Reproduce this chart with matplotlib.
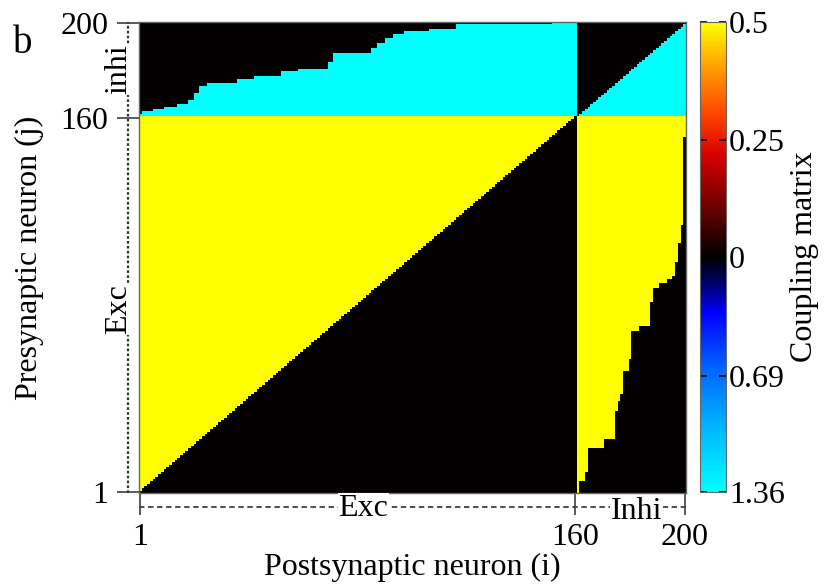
import numpy as np
import matplotlib
matplotlib.use("Agg")
import matplotlib.pyplot as plt
from matplotlib.colors import LinearSegmentedColormap, TwoSlopeNorm

plt.rcParams["font.family"] = ["Liberation Serif", "DejaVu Serif"]

N = 200
N_EXC = 160
W_EXC = 0.5
W_INH = -1.36

# inhibitory rows (161-200) onto excitatory columns: cyan reaches up to inh_top from column inh_cols on
inh_cols = [1, 2, 6, 10, 15, 19, 21, 23, 26, 37, 43, 53, 59, 70, 72, 86, 88, 91, 94, 98, 107, 117, 152]
inh_top = [161, 162, 163, 164, 165, 167, 170, 173, 174, 176, 177, 179, 180, 183, 187, 189, 191, 193, 195, 196, 197, 199, 200]

# excitatory rows (1-160) onto inhibitory columns: yellow reaches right to exc_right from row exc_rows on
exc_rows = [1, 6, 10, 20, 24, 36, 40, 43, 53, 58, 70, 72, 82, 88, 90, 92, 93, 99, 107, 115, 152]
exc_right = [161, 163, 164, 170, 174, 175, 176, 177, 179, 180, 183, 187, 188, 190, 193, 195, 196, 197, 198, 199, 200]

cbar_ticks = [-1.36, -0.69, 0, 0.25, 0.5]
cbar_labels = ["1.36", "0.69", "0", "0.25", "0.5"]

# build coupling matrix, rows = presynaptic j, cols = postsynaptic i
j = np.arange(1, N + 1)[:, None]
i = np.arange(1, N + 1)[None, :]
M = np.zeros((N, N))

exc_j = j <= N_EXC
exc_i = i <= N_EXC
M[exc_j & exc_i & (i < j)] = W_EXC

right = np.array(exc_right)[np.searchsorted(exc_rows, j, side="right") - 1]
M[exc_j & ~exc_i & (i <= right)] = W_EXC

top = np.array(inh_top)[np.searchsorted(inh_cols, np.minimum(i, N_EXC), side="right") - 1]
M[~exc_j & exc_i & (j <= top)] = W_INH
M[~exc_j & ~exc_i & (j < i)] = W_INH

cmap = LinearSegmentedColormap.from_list("coupling", [
    (0.0, (0.0, 1.0, 1.0)),
    (0.14, (0.0, 0.7, 1.0)),
    (0.26, (0.0, 0.4, 1.0)),
    (0.38, (0.0, 0.0, 1.0)),
    (0.44, (0.0, 0.0, 0.45)),
    (0.5, (0.0, 0.0, 0.0)),
    (0.6, (0.4, 0.0, 0.0)),
    (0.72, (0.85, 0.0, 0.0)),
    (0.8, (1.0, 0.25, 0.0)),
    (0.9, (1.0, 0.6, 0.0)),
    (1.0, (1.0, 1.0, 0.0)),
])
norm = TwoSlopeNorm(vmin=W_INH, vcenter=0, vmax=W_EXC)

fig = plt.figure(figsize=(8.36, 5.84), dpi=100)
ax = fig.add_axes([0.1663, 0.156, 0.6543, 0.806])
cax = fig.add_axes([0.8373, 0.158, 0.0311, 0.804])

im = ax.imshow(M, origin="lower", extent=(0.5, N + 0.5, 0.5, N + 0.5), aspect="auto",
               interpolation="nearest", cmap=cmap, norm=norm)

ax.set_xticks([1, 160, 200])
ax.set_yticks([1, 160, 200])
ax.tick_params(labelsize=23, length=16, width=1.3, color="0.3", pad=6)
for s in ax.spines.values():
    s.set_color("0.4")
    s.set_linewidth(1.0)
ax.set_xlabel("Postsynaptic neuron (i)", fontsize=23, labelpad=0)
ax.set_ylabel("Presynaptic neuron (j)", fontsize=23, labelpad=12)

# population brackets along the axes
ax.plot([-0.02, -0.02], [0.0, 1.0], transform=ax.transAxes, clip_on=False,
        color="0.2", lw=1.6, ls=(0, (1.2, 1.0)))
ax.plot([0.0, 1.0], [-0.03, -0.03], transform=ax.transAxes, clip_on=False,
        color="0.25", lw=1.3, ls=(0, (3, 2)))
box = dict(facecolor="white", edgecolor="none", pad=0.5)
ax.text(-0.037, 0.9, "inhi", rotation=90, transform=ax.transAxes, fontsize=23,
        ha="center", va="center", bbox=box)
ax.text(-0.037, 0.39, "Exc", rotation=90, transform=ax.transAxes, fontsize=23,
        ha="center", va="center", bbox=box)
ax.text(0.41, -0.033, "Exc", transform=ax.transAxes, fontsize=23,
        ha="center", va="center", bbox=box)
ax.text(0.91, -0.04, "Inhi", transform=ax.transAxes, fontsize=23,
        ha="center", va="center", bbox=box)

cb = fig.colorbar(im, cax=cax)
cb.set_ticks(cbar_ticks)
cb.set_ticklabels(cbar_labels)
cb.ax.tick_params(labelsize=23, direction="in", length=5, width=1.2, left=True, right=True, pad=2)
cb.outline.set_edgecolor("0.4")
cb.set_label("Coupling matrix", fontsize=23, labelpad=4)

fig.text(0.015, 0.91, "b", fontsize=28)

fig.savefig("out.png", dpi=100)
